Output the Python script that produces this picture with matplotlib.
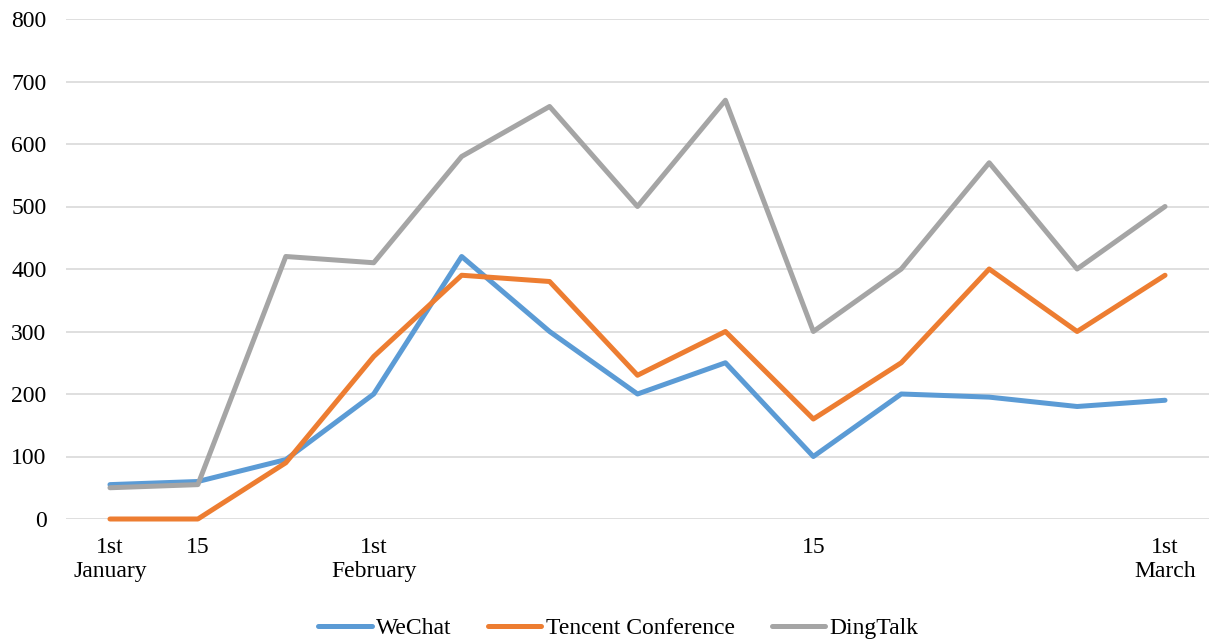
import matplotlib.pyplot as plt
import numpy as np

plt.rcParams['font.family'] = ['Liberation Serif', 'DejaVu Serif']

wechat = [55, 60, 95, 200, 420, 300, 200, 250, 100, 200, 195, 180, 190]
tencent = [0, 0, 90, 260, 390, 380, 230, 300, 160, 250, 400, 300, 390]
dingtalk = [50, 55, 420, 410, 580, 660, 500, 670, 300, 400, 570, 400, 500]
tick_pos = [0, 1, 3, 8, 12]
tick_labels = ['1st\nJanuary', '15', '1st\nFebruary', '15', '1st\nMarch']

X = np.arange(len(wechat))

fig = plt.figure(figsize=(12.09, 6.39), dpi=100)
ax = fig.add_axes([66/1209, 120/639, 1143/1209, 500/639])

ax.plot(X, wechat, color='#5B9BD5', lw=3.6, label='WeChat', clip_on=False, solid_capstyle='round')
ax.plot(X, tencent, color='#ED7D31', lw=3.6, label='Tencent Conference', clip_on=False, solid_capstyle='round')
ax.plot(X, dingtalk, color='#A5A5A5', lw=3.6, label='DingTalk', clip_on=False, solid_capstyle='round')

ax.set_xlim(-0.5, 12.5)
ax.set_ylim(0, 800)
ax.set_yticks(range(0, 801, 100))
ax.set_xticks(tick_pos)
ax.set_xticklabels(tick_labels, fontsize=17, linespacing=1.2)
ax.tick_params(axis='y', labelsize=17, length=0, pad=14)
ax.tick_params(axis='x', length=0, pad=13)
ax.grid(axis='y', color='#D9D9D9', lw=1.2)
ax.set_axisbelow(True)
for s in ax.spines.values():
    s.set_visible(False)

ax.legend(loc='center', bbox_to_anchor=(0.5 - 19/1143, -109/500), ncol=3, frameon=False,
          fontsize=17, handlelength=2.25, handletextpad=0.2, columnspacing=1.55)

plt.savefig('out.png', dpi=100)
